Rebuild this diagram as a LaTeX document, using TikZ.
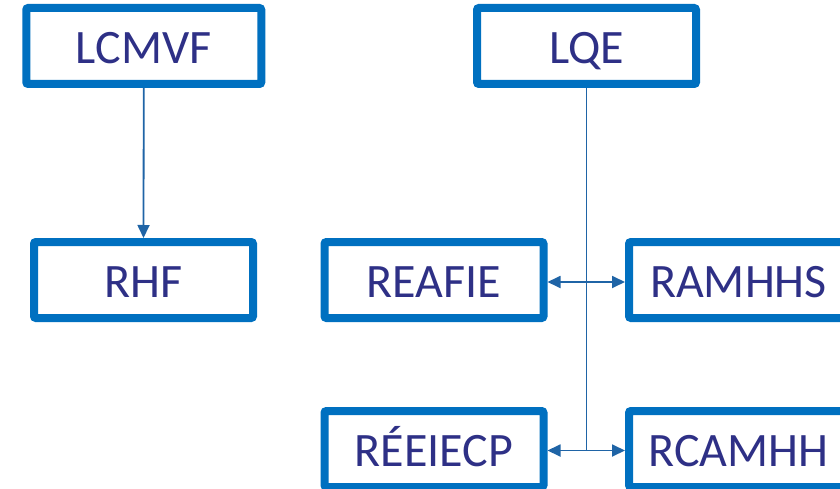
\documentclass[tikz,border=0pt]{standalone}
\usepackage{fontspec}
\setmainfont{Carlito}
\usetikzlibrary{arrows.meta}
\definecolor{boxblue}{HTML}{0070C0}
\definecolor{txtnavy}{HTML}{2E3086}
\definecolor{lineblue}{HTML}{1F64A6}
\begin{document}
\begin{tikzpicture}[x=1pt,y=-1pt,
  box/.style={draw=boxblue,line width=8pt,rounded corners=2pt,fill=white,
    minimum height=76pt,minimum width=219pt,inner sep=0pt,
    text height=35pt,text depth=0pt,
    text=txtnavy,font=\fontsize{48}{52}\selectfont},
  conn/.style={draw=lineblue,line width=1.8pt},
  arr/.style={conn,-{Triangle[length=13pt,width=12pt]}}]
\useasboundingbox (0,0) rectangle (840,489);
\node[box,minimum width=235pt] (lcmvf) at (143.75,46) {LCMVF};
\node[box] (lqe) at (586.5,46) {LQE};
\node[box] (rhf) at (143.5,280) {RHF};
\node[box] (reafie) at (434,280) {REAFIE};
\node[box] (ramhhs) at (738.5,280) {RAMHHS};
\node[box] (reeiecp) at (434,449) {RÉEIECP};
\node[box] (rcamhh) at (738.5,449) {RCAMHH};
\coordinate (j1) at (586.5,282);
\coordinate (j2) at (586.5,450.5);
\draw[arr] (lcmvf.south) -- (rhf.north);
\draw[conn] (lqe.south) -- (j2);
\draw[arr] (j1) -- (reafie.east |- j1);
\draw[arr] (j1) -- (ramhhs.west |- j1);
\draw[arr] (j2) -- (reeiecp.east |- j2);
\draw[arr] (j2) -- (rcamhh.west |- j2);
\end{tikzpicture}
\end{document}
